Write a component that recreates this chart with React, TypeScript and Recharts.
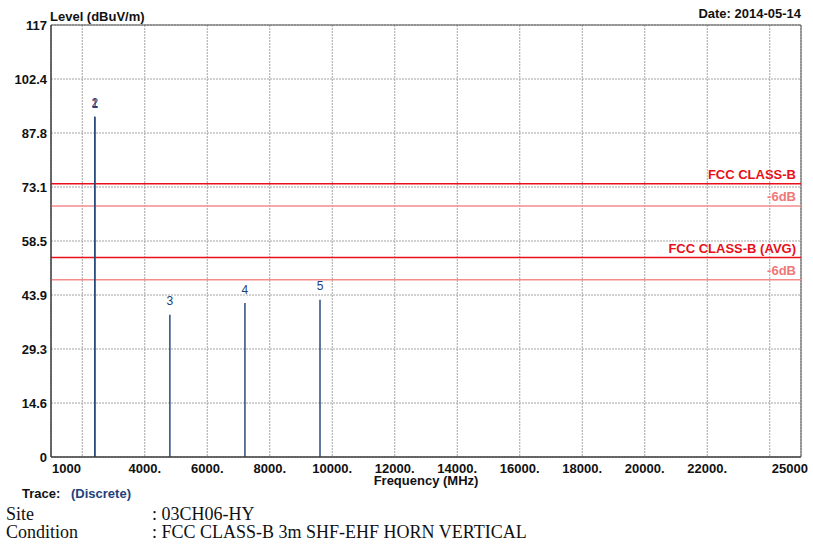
import {
  ComposedChart,
  XAxis,
  YAxis,
  CartesianGrid,
  ReferenceLine,
  ReferenceArea,
  Scatter,
  LabelList,
} from 'recharts'

const xTicks = [1000, 2000, 4000, 6000, 8000, 10000, 12000, 14000, 16000, 18000, 20000, 22000, 24000, 25000]
const xTickLabels = ['1000', '', '4000.', '6000.', '8000.', '10000.', '12000.', '14000.', '16000.', '18000.', '20000.', '22000.', '', '25000']

const yTicks = [0, 14.625, 29.25, 43.875, 58.5, 73.125, 87.75, 102.375, 117]
const yTickLabels = ['0', '14.6', '29.3', '43.9', '58.5', '73.1', '87.8', '102.4', '117']

// measured peaks (discrete trace)
const markerNos = ['1', '2', '3', '4', '5']
const markerFreqs = [2402, 2402, 4804, 7206, 9608]
const markerLevels = [92.0, 92.2, 38.5, 41.7, 42.6]

// limit lines
const limitNames = ['FCC CLASS-B', '-6dB', 'FCC CLASS-B (AVG)', '-6dB']
const limitLevels = [74, 68, 54, 48]
const limitColors = ['#e8101a', '#f48c8c', '#e8101a', '#f48c8c']
const limitTextColors = ['#e8101a', '#f07878', '#e8101a', '#f07878']

const SANS = '"Liberation Sans", Arial, sans-serif'
const SERIF = '"Liberation Serif", "Times New Roman", serif'
const NAVY = '#23407a'

const data = markerFreqs.map((f, i) => ({ freq: f, level: markerLevels[i], no: markerNos[i] }))

function XTick(props: any) {
  const { x, y, payload } = props
  const label = xTickLabels[xTicks.indexOf(payload.value)] ?? ''
  if (!label) return null
  let anchor: 'start' | 'middle' | 'end' = 'middle'
  let dx = 0
  if (payload.value === 1000) {
    anchor = 'start'
    dx = 1
  } else if (payload.value === 25000) {
    anchor = 'end'
    dx = 7
  }
  return (
    <text x={x + dx} y={y + 16} textAnchor={anchor} fontFamily={SANS} fontWeight="bold" fontSize={13} fill="#111">
      {label}
    </text>
  )
}

function YTick(props: any) {
  const { x, y, payload } = props
  const label = yTickLabels[yTicks.indexOf(payload.value)] ?? ''
  return (
    <text x={x} y={y + 5} textAnchor="end" fontFamily={SANS} fontWeight="bold" fontSize={13} fill="#111">
      {label}
    </text>
  )
}

export default function App() {
  return (
    <div style={{ position: 'absolute', left: 0, top: 0, width: 813, height: 544, background: '#fff' }}>
      <ComposedChart width={813} height={544} data={data} margin={{ top: 25, right: 12, bottom: 0, left: 0 }}>
        <CartesianGrid stroke="#a4a4a4" strokeDasharray="2 1" />
        <XAxis
          type="number"
          dataKey="freq"
          domain={[1000, 25000]}
          ticks={xTicks}
          height={87}
          tickLine={false}
          tickSize={0}
          tickMargin={0}
          interval={0}
          allowDataOverflow
          axisLine={{ stroke: '#333' }}
          tick={<XTick />}
        />
        <YAxis
          type="number"
          dataKey="level"
          domain={[0, 117]}
          ticks={yTicks}
          width={51}
          tickLine={false}
          tickSize={0}
          tickMargin={4}
          interval={0}
          allowDataOverflow
          axisLine={{ stroke: '#333' }}
          tick={<YTick />}
        />
        <ReferenceArea x1={1000} x2={25000} y1={0} y2={117} fill="none" stroke="#555" />
        {limitLevels.map((v, i) => (
          <ReferenceLine
            key={'lim' + i}
            y={v}
            stroke={limitColors[i]}
            strokeWidth={1.5}
            label={{
              value: limitNames[i],
              position: 'insideBottomRight',
              offset: 5,
              fill: limitTextColors[i],
              fontSize: 13,
              fontWeight: 'bold',
              fontFamily: SANS,
            }}
          />
        ))}
        {markerFreqs.map((f, i) => (
          <ReferenceLine
            key={'mk' + i}
            segment={[
              { x: f, y: 0 },
              { x: f, y: markerLevels[i] },
            ]}
            stroke="#2b4a7c"
            strokeWidth={1.5}
          />
        ))}
        <Scatter dataKey="level" isAnimationActive={false} shape={() => <g />}>
          <LabelList dataKey="no" position="top" offset={5} fill={NAVY} fontSize={12} fontFamily={SANS} />
        </Scatter>
      </ComposedChart>
      <svg width={813} height={544} style={{ position: 'absolute', left: 0, top: 0, pointerEvents: 'none' }}>
        <text x={50} y={21} fontFamily={SANS} fontWeight="bold" fontSize={13} fill="#111">
          Level (dBuV/m)
        </text>
        <text x={801} y={18} textAnchor="end" fontFamily={SANS} fontWeight="bold" fontSize={13} fill="#111">
          Date: 2014-05-14
        </text>
        <text x={426} y={485} textAnchor="middle" fontFamily={SANS} fontWeight="bold" fontSize={13} fill="#111">
          Frequency (MHz)
        </text>
        <text x={22} y={498} fontFamily={SANS} fontWeight="bold" fontSize={13} fill="#111">
          Trace:
        </text>
        <text x={71} y={498} fontFamily={SANS} fontWeight="bold" fontSize={13} fill={NAVY}>
          (Discrete)
        </text>
        <text x={6} y={520} fontFamily={SERIF} fontSize={18} fill="#111">
          Site
        </text>
        <text x={152} y={520} fontFamily={SERIF} fontSize={18} fill="#111">
          : 03CH06-HY
        </text>
        <text x={6} y={538} fontFamily={SERIF} fontSize={18} fill="#111">
          Condition
        </text>
        <text x={152} y={538} fontFamily={SERIF} fontSize={18} fill="#111">
          : FCC CLASS-B 3m SHF-EHF HORN VERTICAL
        </text>
      </svg>
    </div>
  )
}
